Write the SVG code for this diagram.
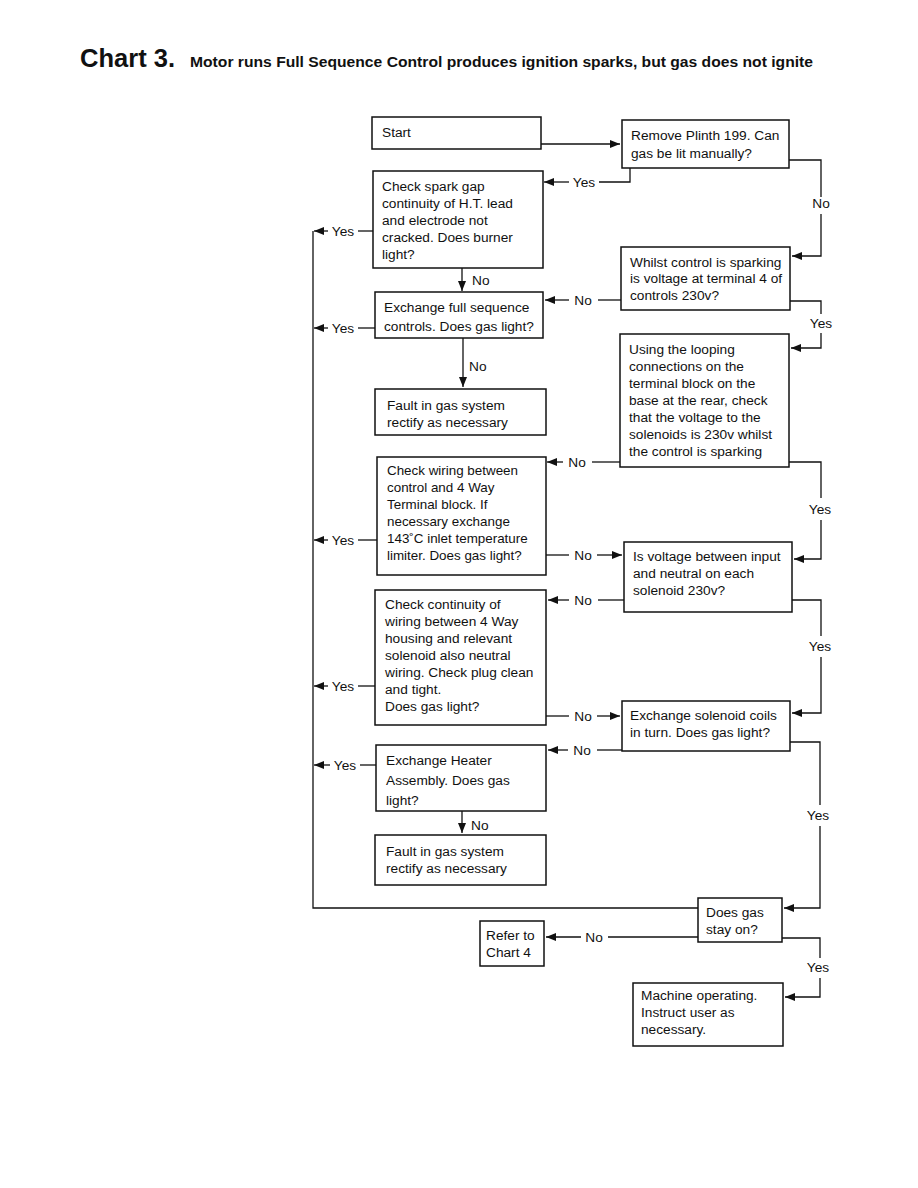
<svg xmlns="http://www.w3.org/2000/svg" width="918" height="1188" viewBox="0 0 918 1188">
<style>
.bx{fill:#fff;stroke:#111;stroke-width:1.5}
.t{font-family:"Liberation Sans",Arial,sans-serif;font-size:13.7px;fill:#111}
.ts{font-family:"Liberation Sans",Arial,sans-serif;font-size:13.4px;fill:#111}
.lb{font-family:"Liberation Sans",Arial,sans-serif;font-size:13.7px;fill:#111;text-anchor:middle}
.c{fill:none;stroke:#111;stroke-width:1.3}
.a{fill:none;stroke:#111;stroke-width:1.3;marker-end:url(#ah)}
</style>
<defs>
<marker id="ah" markerUnits="userSpaceOnUse" markerWidth="12" markerHeight="10" refX="10" refY="4" orient="auto">
<path d="M0,0 L10,4 L0,8 Z" fill="#111"/>
</marker>
</defs>
<rect width="918" height="1188" fill="#fff"/>
<text x="80" y="67" font-family="Liberation Sans,Arial,sans-serif" font-weight="bold" font-size="26" fill="#111" textLength="95" lengthAdjust="spacingAndGlyphs">Chart 3.</text>
<text x="190" y="67" font-family="Liberation Sans,Arial,sans-serif" font-weight="bold" font-size="13.8" fill="#111" textLength="623" lengthAdjust="spacingAndGlyphs">Motor runs Full Sequence Control produces ignition sparks, but gas does not ignite</text>

<g id="connectors">
<path class="a" d="M541,144 H620"/>
<path class="c" d="M630,168 V182 H599"/>
<path class="a" d="M569,182 H544"/>
<text class="lb" x="584" y="187">Yes</text>
<path class="c" d="M789,160 H821 V197"/>
<text class="lb" x="821" y="208">No</text>
<path class="a" d="M821,214 V256 H792"/>
<path class="c" d="M373,231 H358"/>
<text class="lb" x="343" y="236">Yes</text>
<path class="a" d="M328,231 H314"/>
<path class="c" d="M313,231 V908 H698"/>
<path class="a" d="M462,268 V291"/>
<text class="t" x="472" y="285">No</text>
<path class="c" d="M621,300 H598"/>
<text class="lb" x="583" y="305">No</text>
<path class="a" d="M569,300 H545"/>
<path class="c" d="M375,328 H358"/>
<text class="lb" x="343" y="333">Yes</text>
<path class="a" d="M328,328 H314"/>
<path class="a" d="M463,338 V387"/>
<text class="t" x="469" y="371">No</text>
<path class="c" d="M790,301 H821 V314"/>
<text class="lb" x="821" y="328">Yes</text>
<path class="a" d="M821,333 V348 H791"/>
<path class="c" d="M620,462 H592"/>
<text class="lb" x="577" y="467">No</text>
<path class="a" d="M563,462 H547"/>
<path class="c" d="M789,462 H821 V498"/>
<text class="lb" x="820" y="514">Yes</text>
<path class="a" d="M821,520 V559 H794"/>
<path class="c" d="M377,540 H358"/>
<text class="lb" x="343" y="545">Yes</text>
<path class="a" d="M328,540 H314"/>
<path class="c" d="M546,555 H569"/>
<text class="lb" x="583" y="560">No</text>
<path class="a" d="M597,555 H622"/>
<path class="c" d="M624,600 H598"/>
<text class="lb" x="583" y="605">No</text>
<path class="a" d="M569,600 H548"/>
<path class="c" d="M792,600 H821 V636"/>
<text class="lb" x="820" y="651">Yes</text>
<path class="a" d="M821,657 V713 H792"/>
<path class="c" d="M375,686 H358"/>
<text class="lb" x="343" y="691">Yes</text>
<path class="a" d="M328,686 H314"/>
<path class="c" d="M546,716 H569"/>
<text class="lb" x="583" y="721">No</text>
<path class="a" d="M597,716 H620"/>
<path class="c" d="M622,750 H597"/>
<text class="lb" x="582" y="755">No</text>
<path class="a" d="M568,750 H548"/>
<path class="c" d="M790,742 H820 V805"/>
<text class="lb" x="818" y="820">Yes</text>
<path class="a" d="M820,826 V908 H784"/>
<path class="c" d="M376,765 H360"/>
<text class="lb" x="345" y="770">Yes</text>
<path class="a" d="M330,765 H314"/>
<path class="a" d="M462,811 V833"/>
<text class="t" x="471" y="830">No</text>
<path class="c" d="M698,937 H608"/>
<text class="lb" x="594" y="942">No</text>
<path class="a" d="M581,937 H546"/>
<path class="c" d="M782,938 H820 V958"/>
<text class="lb" x="818" y="972">Yes</text>
<path class="a" d="M820,978 V997 H785"/>
</g>

<g id="start"><rect class="bx" x="372" y="117" width="169" height="32"/><text class="t" x="382" y="137">Start</text></g>
<g id="remove"><rect class="bx" x="622" y="120" width="167" height="48"/><text class="t" x="631" y="140">Remove Plinth 199. Can</text><text class="t" x="631" y="158">gas be lit manually?</text></g>
<g id="checkspark"><rect class="bx" x="373" y="171" width="170" height="97"/>
<text class="t" x="382" y="191">Check spark gap</text><text class="t" x="382" y="208">continuity of H.T. lead</text><text class="t" x="382" y="225">and electrode not</text><text class="t" x="382" y="242">cracked. Does burner</text><text class="t" x="382" y="259">light?</text></g>
<g id="exchfull"><rect class="bx" x="375" y="292" width="168" height="46"/><text class="t" x="384" y="312">Exchange full sequence</text><text class="t" x="384" y="331">controls. Does gas light?</text></g>
<g id="fault1"><rect class="bx" x="375" y="389" width="171" height="46"/><text class="t" x="387" y="410">Fault in gas system</text><text class="t" x="387" y="427">rectify as necessary</text></g>
<g id="whilst"><rect class="bx" x="621" y="247" width="169" height="63"/><text class="t" x="630" y="267">Whilst control is sparking</text><text class="t" x="630" y="283">is voltage at terminal 4 of</text><text class="t" x="630" y="300">controls 230v?</text></g>
<g id="using"><rect class="bx" x="620" y="334" width="169" height="133"/>
<text class="t" x="629" y="354">Using the looping</text><text class="t" x="629" y="371">connections on the</text><text class="t" x="629" y="388">terminal block on the</text><text class="t" x="629" y="405">base at the rear, check</text><text class="t" x="629" y="422">that the voltage to the</text><text class="t" x="629" y="439">solenoids is 230v whilst</text><text class="t" x="629" y="456">the control is sparking</text></g>
<g id="checkwiring"><rect class="bx" x="377" y="457" width="169" height="118"/>
<text class="ts" x="387" y="475">Check wiring between</text><text class="ts" x="387" y="492">control and 4 Way</text><text class="ts" x="387" y="509">Terminal block. If</text><text class="ts" x="387" y="526">necessary exchange</text><text class="ts" x="387" y="543">143˚C inlet temperature</text><text class="ts" x="387" y="560">limiter. Does gas light?</text></g>
<g id="isvoltage"><rect class="bx" x="624" y="542" width="168" height="70"/><text class="t" x="633" y="561">Is voltage between input</text><text class="t" x="633" y="578">and neutral on each</text><text class="t" x="633" y="595">solenoid 230v?</text></g>
<g id="checkcont"><rect class="bx" x="375" y="590" width="171" height="135"/>
<text class="t" x="385" y="609">Check continuity of</text><text class="t" x="385" y="626">wiring between 4 Way</text><text class="t" x="385" y="643">housing and relevant</text><text class="t" x="385" y="660">solenoid also neutral</text><text class="t" x="385" y="677">wiring. Check plug clean</text><text class="t" x="385" y="694">and tight.</text><text class="t" x="385" y="711">Does gas light?</text></g>
<g id="exchsol"><rect class="bx" x="622" y="701" width="168" height="50"/><text class="t" x="630" y="720">Exchange solenoid coils</text><text class="t" x="630" y="737">in turn. Does gas light?</text></g>
<g id="heater"><rect class="bx" x="376" y="745" width="170" height="66"/><text class="t" x="386" y="765">Exchange Heater</text><text class="t" x="386" y="785">Assembly. Does gas</text><text class="t" x="386" y="805">light?</text></g>
<g id="fault2"><rect class="bx" x="375" y="835" width="171" height="50"/><text class="t" x="386" y="856">Fault in gas system</text><text class="t" x="386" y="873">rectify as necessary</text></g>
<g id="doesgas"><rect class="bx" x="698" y="898" width="84" height="44"/><text class="t" x="706" y="917">Does gas</text><text class="t" x="706" y="934">stay on?</text></g>
<g id="refer"><rect class="bx" x="480" y="921" width="64" height="45"/><text class="t" x="486" y="940">Refer to</text><text class="t" x="486" y="957">Chart 4</text></g>
<g id="machine"><rect class="bx" x="633" y="983" width="150" height="63"/><text class="t" x="641" y="1000">Machine operating.</text><text class="t" x="641" y="1017">Instruct user as</text><text class="t" x="641" y="1034">necessary.</text></g>
</svg>
